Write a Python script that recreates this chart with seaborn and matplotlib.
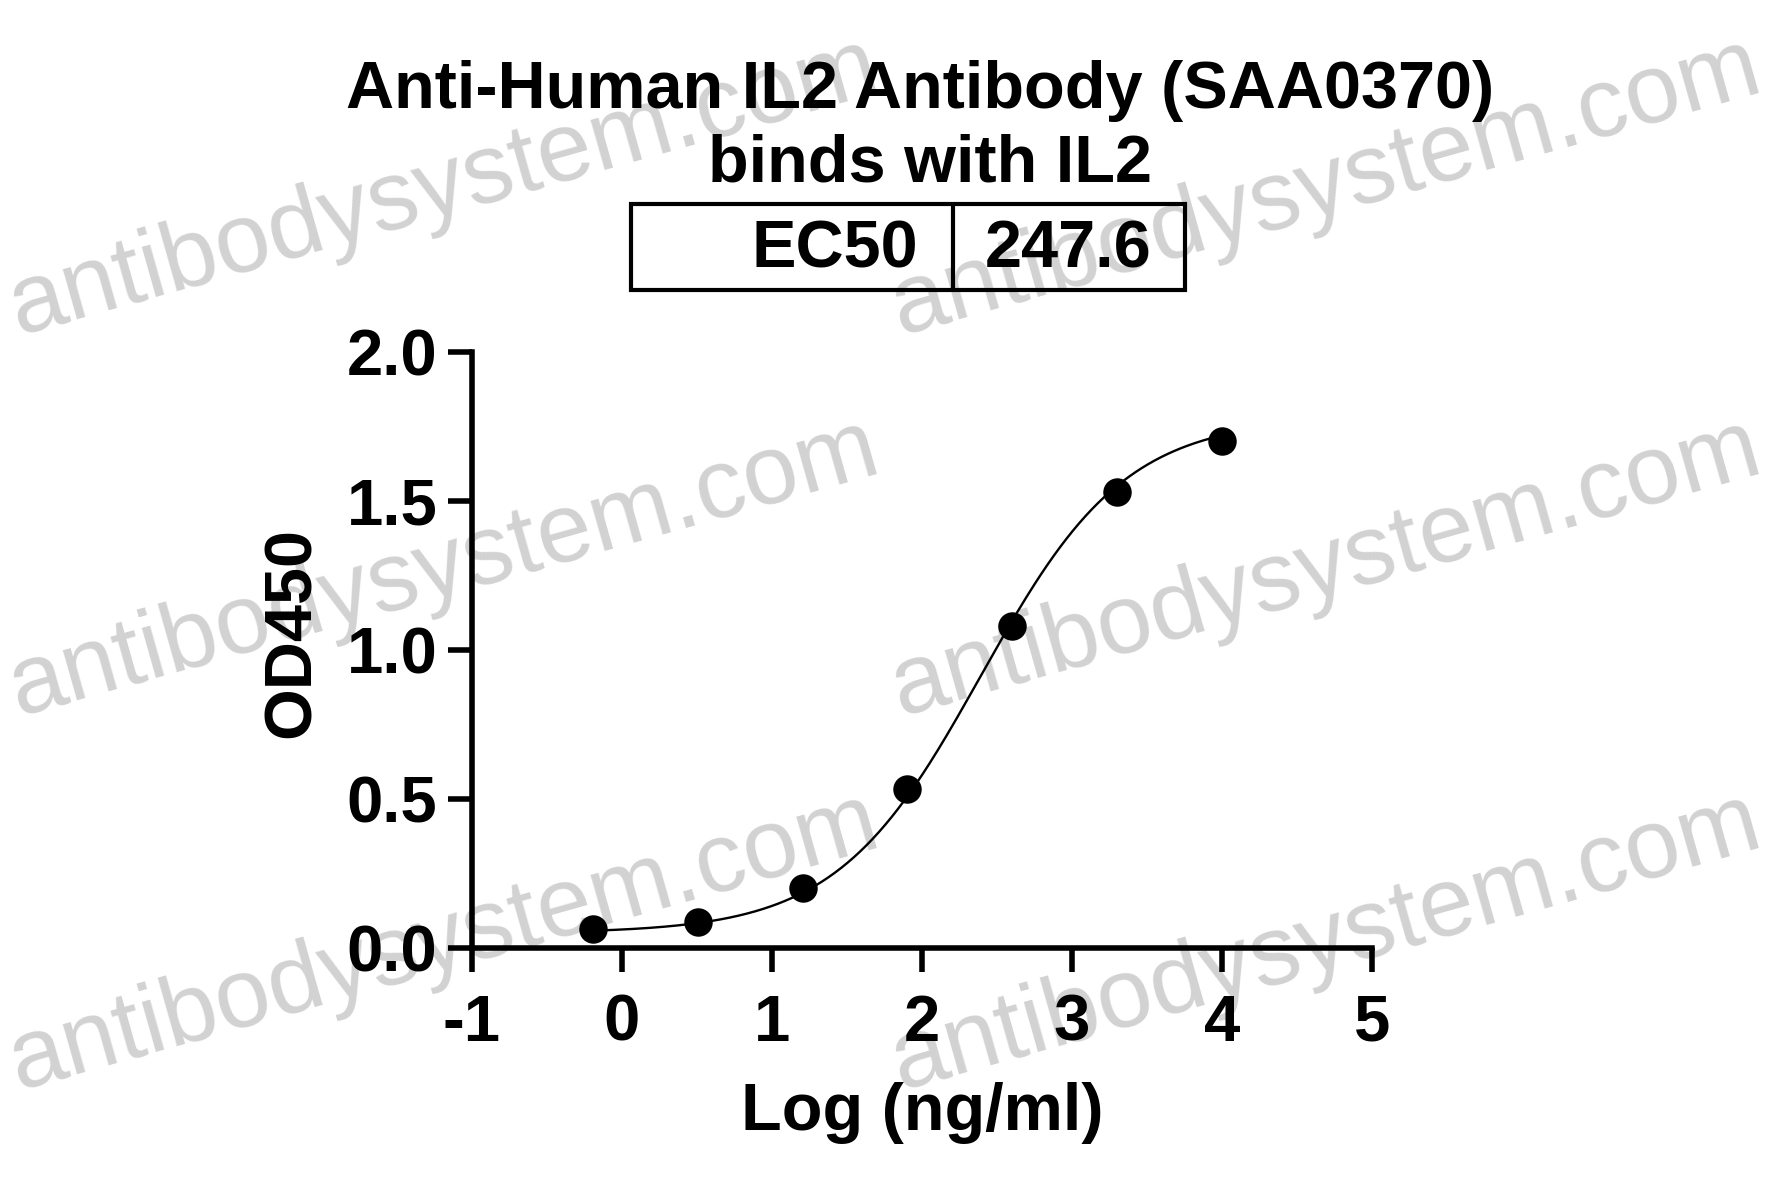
#  Import Libraries
import numpy as np
import pandas as pd
import matplotlib
matplotlib.use("Agg")
import matplotlib.pyplot as plt
import seaborn as sns

sns.set_theme(style="white", rc={"text.color": "black", "axes.labelcolor": "black",
                                 "xtick.color": "black", "ytick.color": "black"})
plt.rcParams['font.family'] = ['Liberation Sans', 'DejaVu Sans']

# ==========================
#  Data
# ==========================
log_conc = [-0.194, 0.505, 1.204, 1.903, 2.602, 3.301, 4.0]   # Log (ng/ml)
od450 = [0.065, 0.088, 0.20, 0.533, 1.08, 1.53, 1.70]

# 4PL fit parameters of the drawn curve
ec50 = 247.6
fit_bottom = 0.05
fit_top = 1.78
fit_hill = 0.9

title_lines = ["Anti-Human IL2 Antibody (SAA0370)", "binds with IL2"]
x_ticks = [-1, 0, 1, 2, 3, 4, 5]
y_ticks = [0.0, 0.5, 1.0, 1.5, 2.0]
watermark = "antibodysystem.com"

df = pd.DataFrame({"logc": log_conc, "od": od450})
xs = np.linspace(min(log_conc), max(log_conc), 300)
curve = pd.DataFrame({
    "logc": xs,
    "od": fit_bottom + (fit_top - fit_bottom) / (1 + 10 ** ((np.log10(ec50) - xs) * fit_hill)),
})

# ==========================
#  Figure
# ==========================
W, H = 1781, 1197
fig = plt.figure(figsize=(W / 100, H / 100), dpi=100)
fig.patch.set_facecolor("white")

# watermarks behind everything
for px, py in [(18, 335), (900, 335), (18, 716), (900, 716), (18, 1090), (900, 1090)]:
    fig.text(px / W, 1 - py / H, watermark, rotation=15.8, rotation_mode="anchor",
             ha="left", va="baseline", fontsize=71, color="#d2d2d2", zorder=-5)

ax = fig.add_axes([472 / W, 1 - 948 / H, 900 / W, 596 / H])
ax.patch.set_alpha(0)

sns.lineplot(data=curve, x="logc", y="od", ax=ax, color="black", linewidth=1.7,
             clip_on=False)
sns.scatterplot(data=df, x="logc", y="od", ax=ax, color="black", s=420,
                edgecolor="black", linewidth=0, clip_on=False, zorder=5)

ax.set_xlim(-1, 5)
ax.set_ylim(0, 2)
ax.set_xticks(x_ticks)
ax.set_yticks(y_ticks)
ax.set_xticklabels([str(t) for t in x_ticks])
ax.set_yticklabels([f"{t:.1f}" for t in y_ticks])
for s in ["top", "right"]:
    ax.spines[s].set_visible(False)
for s in ["left", "bottom"]:
    ax.spines[s].set_linewidth(4)
    ax.spines[s].set_color("black")
ax.tick_params(axis="both", bottom=True, left=True, direction="out", length=17,
               width=4, color="black", labelsize=47, labelcolor="black")
ax.tick_params(axis="x", pad=16)
ax.tick_params(axis="y", pad=8)
for lab in ax.get_xticklabels() + ax.get_yticklabels():
    lab.set_fontweight("bold")

ax.set_xlabel("Log (ng/ml)", fontsize=48, fontweight="bold", labelpad=20, color="black")
ax.set_ylabel("OD450", fontsize=48, fontweight="bold", color="black")
ax.yaxis.set_label_coords(-0.165, 0.53)

# title
fig.text(920 / W, 1 - 108 / H, title_lines[0], ha="center", va="baseline",
         fontsize=48, fontweight="bold", color="black")
fig.text(930 / W, 1 - 182 / H, title_lines[1], ha="center", va="baseline",
         fontsize=48, fontweight="bold", color="black")

# EC50 box
box_l, box_r, box_t, box_b, box_mid = 631, 1185, 204, 290, 953
fig.add_artist(plt.Rectangle((box_l / W, 1 - box_b / H), (box_r - box_l) / W,
                             (box_b - box_t) / H, transform=fig.transFigure,
                             fill=False, edgecolor="black", linewidth=3))
fig.add_artist(plt.Line2D([box_mid / W, box_mid / W], [1 - box_b / H, 1 - box_t / H],
                          transform=fig.transFigure, color="black", linewidth=3))
fig.text(918 / W, 1 - 268 / H, "EC50", ha="right", va="baseline",
         fontsize=48, fontweight="bold", color="black")
fig.text(1068 / W, 1 - 268 / H, f"{ec50:.1f}", ha="center", va="baseline",
         fontsize=48, fontweight="bold", color="black")

fig.savefig("out.png", dpi=100)
